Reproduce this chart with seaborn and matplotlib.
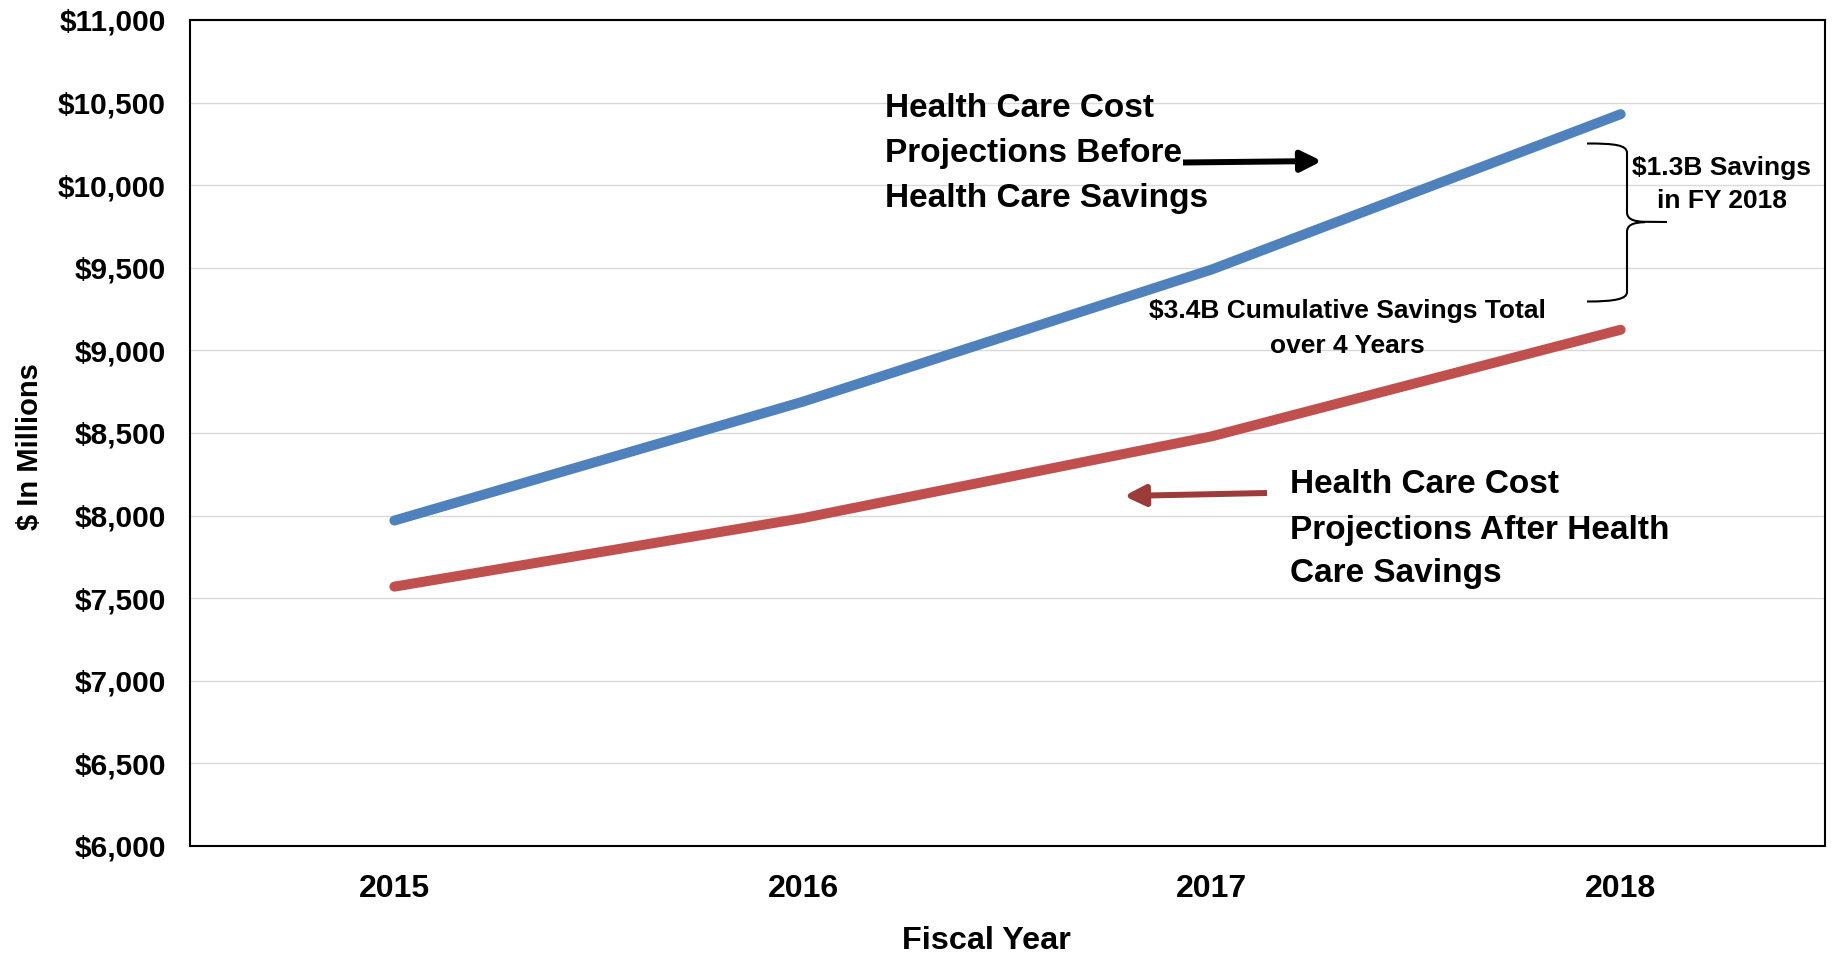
import matplotlib
matplotlib.use("Agg")
import matplotlib.pyplot as plt
from matplotlib.patches import FancyArrowPatch, PathPatch, ArrowStyle
from matplotlib.path import Path
import seaborn as sns
import pandas as pd

# ---- data -------------------------------------------------------------
fiscal_years = ["2015", "2016", "2017", "2018"]
cost_before_savings = [7970, 8690, 9490, 10430]   # $ millions
cost_after_savings = [7570, 7985, 8480, 9125]     # $ millions
series_names = ["Before Savings", "After Savings"]
y_ticks = list(range(6000, 11001, 500))

# ---- style ------------------------------------------------------------
sns.set_theme(style="white")
plt.rcParams["font.family"] = ["Liberation Sans", "DejaVu Sans"]
plt.rcParams["text.color"] = "black"
plt.rcParams["axes.labelcolor"] = "black"
plt.rcParams["xtick.color"] = "black"
plt.rcParams["ytick.color"] = "black"

W, H = 1837, 956
fig = plt.figure(figsize=(W / 100, H / 100), dpi=100)
ax = fig.add_axes([190 / W, 1 - 846 / H, 1635 / W, 826 / H])


def fpos(x, y):
    """Pixel position (origin top-left) -> figure fraction."""
    return x / W, 1 - y / H


def ftext(x, y, s, **kw):
    fx, fy = fpos(x, y)
    fig.text(fx, fy, s, color="black", **kw)


df = pd.DataFrame({
    "Fiscal Year": fiscal_years * 2,
    "Cost": cost_before_savings + cost_after_savings,
    "Series": [series_names[0]] * len(fiscal_years) + [series_names[1]] * len(fiscal_years),
})

sns.lineplot(
    data=df, x="Fiscal Year", y="Cost", hue="Series",
    palette={series_names[0]: "#4f81bd", series_names[1]: "#c0504d"},
    linewidth=7.2, solid_capstyle="round", legend=False, sort=False, ax=ax,
)

# ---- axes -------------------------------------------------------------
ax.set_xlim(-0.5, 3.5)
ax.set_ylim(6000, 11000)
ax.set_yticks(y_ticks)
ax.set_yticklabels([f"${v:,}" for v in y_ticks], fontsize=21.5,
                   fontweight="bold", color="black")
ax.set_xticks(range(len(fiscal_years)))
ax.set_xticklabels(fiscal_years, fontsize=23, fontweight="bold", color="black")
ax.tick_params(axis="y", length=0, pad=17.5)
ax.tick_params(axis="x", length=0, pad=20)
ax.set_xlabel("")
ax.set_ylabel("")
ax.yaxis.grid(True, color="#d9d9d9", linewidth=1.0)
ax.xaxis.grid(False)
for sp in ax.spines.values():
    sp.set_visible(True)
    sp.set_color("black")
    sp.set_linewidth(1.5)

ftext(30, 447, "$ In Millions", rotation=90, ha="center", va="center",
      fontsize=21, fontweight="bold")
ftext(986, 949, "Fiscal Year", ha="center", va="baseline",
      fontsize=23.3, fontweight="bold")

# ---- annotations ------------------------------------------------------
for y, line in zip([117, 162, 207],
                   ["Health Care Cost", "Projections Before", "Health Care Savings"]):
    ftext(885, y, line, ha="left", va="baseline", fontsize=24, fontweight="bold")

for y, line in zip([493, 538.5, 582],
                   ["Health Care Cost", "Projections After Health", "Care Savings"]):
    ftext(1290, y, line, ha="left", va="baseline", fontsize=24, fontweight="bold")

for y, line in zip([318, 353], ["$3.4B Cumulative Savings Total", "over 4 Years"]):
    ftext(1347, y, line, ha="center", va="baseline", fontsize=19, fontweight="bold")

for y, line in zip([175, 208], ["$1.3B Savings", "in FY 2018"]):
    ftext(1722, y, line, ha="center", va="baseline", fontsize=19, fontweight="bold")

head = ArrowStyle("-|>", head_length=12.5, head_width=6.2)
for start, end, color in [((1183, 162.5), (1322, 161), "black"),
                          ((1267, 493), (1124, 496), "#9c3b39")]:
    arrow = FancyArrowPatch(fpos(*start), fpos(*end), arrowstyle=head,
                            mutation_scale=1, color=color, lw=4.3,
                            shrinkA=0, shrinkB=0, capstyle="butt",
                            transform=fig.transFigure)
    fig.add_artist(arrow)

# curly brace spanning the gap between the two 2018 values
brace_pts = [
    (1587, 143.5), (1615, 143.5), (1627, 145), (1627, 153),
    (1627, 212),
    (1627, 219), (1633, 221.5), (1645, 221.8),
    (1667, 222),
    (1645, 222.2),
    (1633, 222.5), (1627, 225), (1627, 232),
    (1627, 292),
    (1627, 299), (1615, 301.5), (1587, 301.5),
]
brace_codes = [
    Path.MOVETO, Path.CURVE4, Path.CURVE4, Path.CURVE4,
    Path.LINETO,
    Path.CURVE4, Path.CURVE4, Path.CURVE4,
    Path.LINETO,
    Path.MOVETO,
    Path.CURVE4, Path.CURVE4, Path.CURVE4,
    Path.LINETO,
    Path.CURVE4, Path.CURVE4, Path.CURVE4,
]
brace = PathPatch(Path([fpos(x, y) for x, y in brace_pts], brace_codes),
                  facecolor="none", edgecolor="black", lw=1.5,
                  transform=fig.transFigure)
fig.add_artist(brace)

fig.savefig("out.png", dpi=100)
